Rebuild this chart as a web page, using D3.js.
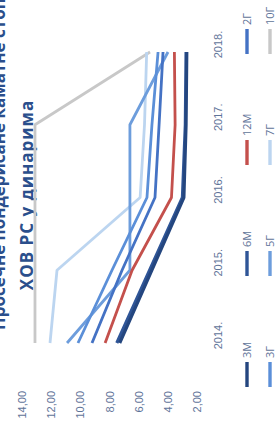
<!DOCTYPE html>
<html>
<head>
<meta charset="utf-8">
<script src="https://cdn.jsdelivr.net/npm/d3@7"></script>
<style>
  html, body { margin: 0; padding: 0; background: #fff; }
  svg { display: block; font-family: "Open Sans", sans-serif; }
  .tick text { fill: #5f7499; font-size: 11px; }
</style>
</head>
<body>
<svg id="chart" width="277" height="431"></svg>
<script>
// Chart is drawn in its own (landscape) frame, then turned a quarter to the left
const years = ['2014.', '2015.', '2016.', '2017.', '2018.'];
const yTicks = [2, 4, 6, 8, 10, 12, 14];

const series = ['3М', '6М', '12М', '2Г', '3Г', '5Г', '7Г', '10Г'];
const v3m  = [7.30, 5.10, 2.90, 2.75, 2.70];
const v6m  = [7.50, 5.25, 3.00, 2.80, 2.75];
const v12m = [8.30, 6.45, 3.75, 3.50, 3.55];
const v2g  = [9.20, 7.14, 4.88, 4.60, 4.33];
const v3g  = [10.16, 7.83, 5.43, 5.09, 4.67];
const v5g  = [10.91, 6.60, 6.60, 6.60, 3.99];
const v7g  = [12.08, 11.60, 5.90, 5.60, 5.45];
const v10g = [13.11, 13.11, 13.11, 13.11, 5.22];
const colors = ['#24467f', '#2f5597', '#c4504c', '#4472c4', '#5b8fd8', '#6d9ddc', '#bcd5f0', '#c8c8c8'];

const allValues = [v3m, v6m, v12m, v2g, v3g, v5g, v7g, v10g];
// draw order: light ones at the back
const drawOrder = [7, 6, 5, 4, 3, 2, 1, 0];

const W = 431, H = 277;
const svg = d3.select('#chart');
const g = svg.append('g').attr('transform', `translate(0,${W}) rotate(-90)`);

const x = d3.scalePoint().domain(years).range([88, 379]);
const y = d3.scaleLinear().domain([2, 14]).range([197, 22]);

// ── Title (first line runs off the page edge, as in the scan) ──
g.append('text')
  .attr('x', 101).attr('y', 5)
  .attr('fill', '#2b4f8c').attr('font-size', 17).attr('font-weight', 700)
  .text('Просечне пондерисане каматне стопе на аукцијама');
g.append('text')
  .attr('x', 236).attr('y', 33).attr('text-anchor', 'middle')
  .attr('fill', '#2b4f8c').attr('font-size', 17).attr('font-weight', 700)
  .attr('letter-spacing', 1)
  .text('ХОВ РС у динарима');

// ── Axes ───────────────────────────────────────────────
const yAxis = g.append('g').attr('transform', 'translate(46,0)')
  .call(d3.axisLeft(y).tickValues(yTicks).tickSize(0).tickPadding(6)
    .tickFormat(d => d3.format('.2f')(d).replace('.', ',')));
yAxis.select('.domain').remove();
yAxis.selectAll('text').attr('font-family', null).attr('font-size', null);

const xAxis = g.append('g').attr('transform', 'translate(0,212)')
  .call(d3.axisBottom(x).tickSize(0).tickPadding(2));
xAxis.select('.domain').remove();
xAxis.selectAll('text').attr('dx', 7).attr('font-family', null).attr('font-size', null);

// ── Lines ──────────────────────────────────────────────
const line = d3.line().x((d, i) => x(years[i])).y(d => y(d));
g.append('g').selectAll('path')
  .data(drawOrder).join('path')
  .attr('d', i => line(allValues[i]))
  .attr('fill', 'none')
  .attr('stroke', i => colors[i])
  .attr('stroke-width', i => i < 2 ? 3.2 : 2.8)
  .attr('stroke-linejoin', 'round');

// ── Legend ─────────────────────────────────────────────
const leg = g.append('g').selectAll('g')
  .data(series).join('g')
  .attr('transform', (d, i) => `translate(${44 + (i % 4) * 111},${i < 4 ? 247 : 270})`);
leg.append('line')
  .attr('x1', 0).attr('x2', 25)
  .attr('stroke', (d, i) => colors[i]).attr('stroke-width', 3.4);
leg.append('text')
  .attr('x', 29).attr('dy', '0.35em')
  .attr('fill', '#5f7499').attr('font-size', 11)
  .text(d => d);
</script>
</body>
</html>
